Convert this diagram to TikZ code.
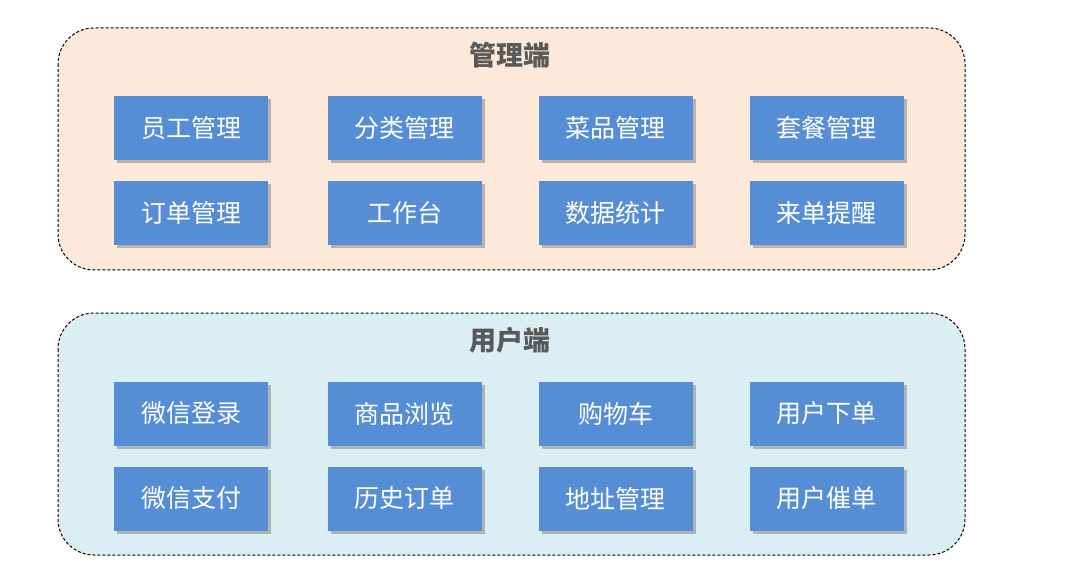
\documentclass[tikz,border=0pt]{standalone}
\usepackage{fontspec}
\setmainfont{Noto Sans CJK SC}
\usetikzlibrary{positioning,shadows}
\definecolor{modulblaa}{HTML}{558ED5}
\definecolor{ferskenbg}{HTML}{FCE9DA}
\definecolor{isblaabg}{HTML}{DBEEF3}
\definecolor{tittelgraa}{HTML}{595959}
\tikzset{
    %Define style for module boxes
    modul/.style={
           rectangle,
           fill=modulblaa,
           text=white,
           minimum width=154pt,
           minimum height=64pt,
           inner sep=0pt,
           outer sep=0pt,
           font=\fontsize{25}{29}\selectfont,
           drop shadow={shadow xshift=3pt,shadow yshift=-3.5pt,
                        opacity=0.35,fill=black!70}},
    % Define style for panel frames
    ramme/.style={
           rounded corners=36pt,
           draw=black,
           line width=1pt,
           dash pattern=on 3pt off 2pt},
    tittel/.style={
           text=tittelgraa,
           font=\fontsize{27}{31}\selectfont\bfseries}
}
\begin{document}
\begin{tikzpicture}[x=1pt,y=-1pt,node distance=21pt and 59.5pt]
\useasboundingbox (0,0) rectangle (1066,588);

% admin side
\draw[ramme,fill=ferskenbg] (58,28) rectangle (965,270);
\node[tittel] (admin) at (510,55) {管理端};

\node[modul] (a1) at (191,128) {员工管理};
\node[modul, right=of a1] (a2) {分类管理};
\node[modul, right=57pt of a2] (a3) {菜品管理};
\node[modul, right=57pt of a3] (a4) {套餐管理};
\node[modul, below=of a1] (a5) {订单管理};
\node[modul, below=of a2] (a6) {工作台};
\node[modul, below=of a3] (a7) {数据统计};
\node[modul, below=of a4] (a8) {来单提醒};

% user side
\draw[ramme,fill=isblaabg] (58,313) rectangle (965,555);
\node[tittel] (user) at (510,340) {用户端};

\node[modul] (u1) at (191,413.5) {微信登录};
\node[modul, right=of u1] (u2) {商品浏览};
\node[modul, right=57pt of u2] (u3) {购物车};
\node[modul, right=57pt of u3] (u4) {用户下单};
\node[modul, below=of u1] (u5) {微信支付};
\node[modul, below=of u2] (u6) {历史订单};
\node[modul, below=of u3] (u7) {地址管理};
\node[modul, below=of u4] (u8) {用户催单};

\end{tikzpicture}
\end{document}
